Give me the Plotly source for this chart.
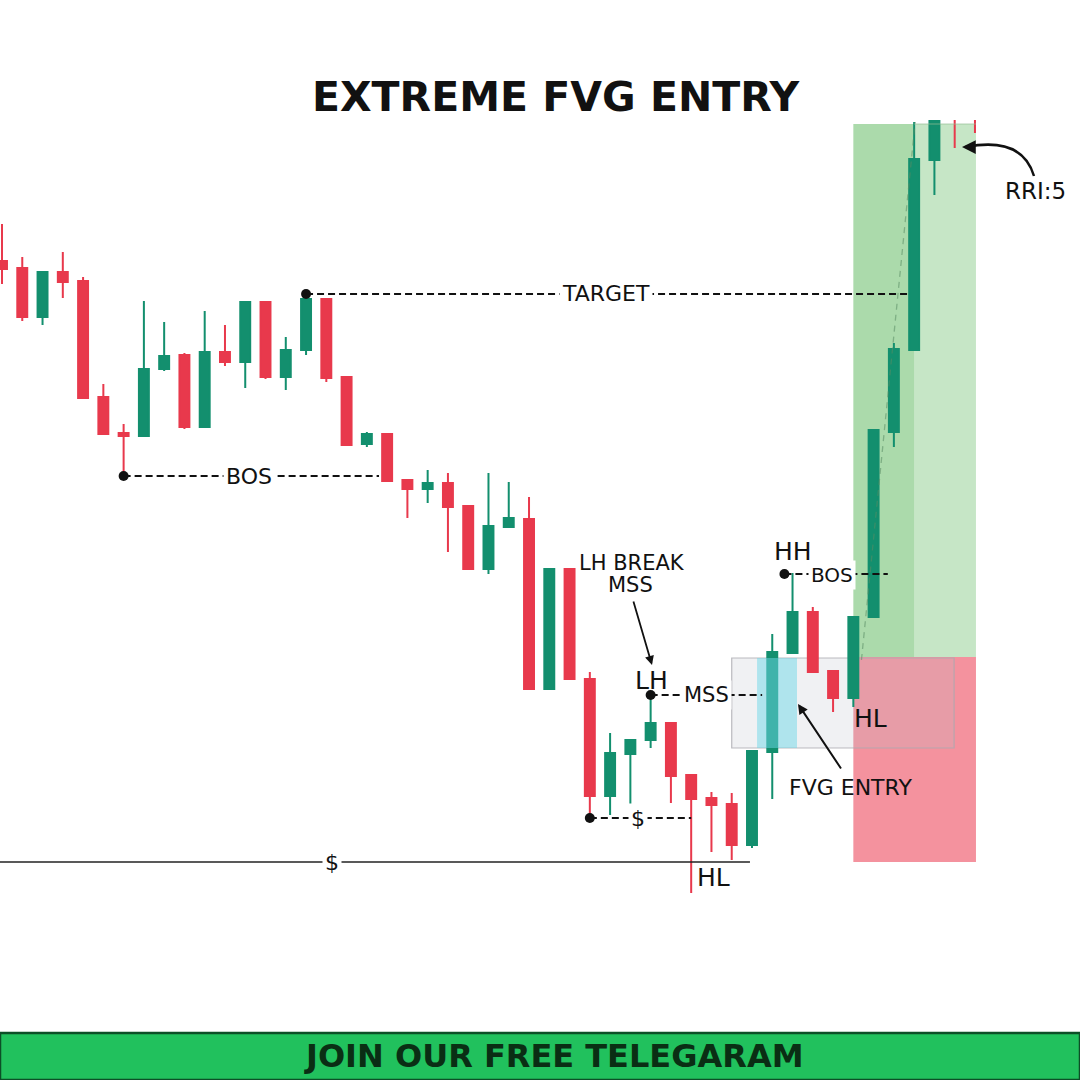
import plotly.graph_objects as go

# ---------------- data (price units) ----------------
idx = list(range(49))
opens  = [819, 812, 763, 808, 799, 683, 647, 644, 711, 725, 653, 728, 718, 778, 703, 730, 781, 703, 636, 646,
          600, 591, 597, 574, 511, 553, 561, 391, 511, 401, 284, 326, 340, 357, 305, 282, 276, 235, 328, 427,
          468, 409, 382, 463, 648, 730, 920, 975, 975]
highs  = [856, 823, 808, 828, 803, 696, 656, 779, 758, 727, 769, 755, 779, 779, 743, 786, 782, 704, 648, 647,
          601, 610, 607, 575, 607, 598, 583, 512, 512, 408, 347, 341, 385, 358, 306, 288, 287, 330, 446, 507,
          473, 410, 464, 651, 737, 958, 961, 980, 980]
lows   = [796, 759, 755, 782, 681, 645, 607, 643, 709, 651, 652, 714, 692, 701, 690, 725, 698, 634, 633, 598,
          562, 577, 528, 510, 506, 552, 390, 390, 400, 262, 265, 272, 332, 277, 187, 228, 220, 232, 281, 426,
          407, 368, 373, 462, 633, 729, 885, 932, 947]
closes = [811, 763, 808, 798, 682, 646, 644, 711, 724, 653, 728, 718, 778, 703, 730, 781, 702, 635, 646, 599,
          591, 597, 573, 511, 554, 562, 391, 511, 401, 284, 327, 340, 357, 304, 281, 275, 235, 329, 428, 468,
          408, 382, 463, 650, 731, 921, 960, 974, 974]

entry_price = 423
stop_price = 218
target_price = 956
fvg_top, fvg_bottom = 422, 332
chart_top = 960

RED = "#E8394C"
GREEN = "#138F6E"
FONT = "DejaVu Sans"

fig = go.Figure()

fig.add_trace(go.Candlestick(
    x=idx, open=opens, high=highs, low=lows, close=closes,
    increasing=dict(line=dict(color=GREEN, width=2), fillcolor=GREEN),
    decreasing=dict(line=dict(color=RED, width=2), fillcolor=RED),
    whiskerwidth=0, hoverinfo="skip", showlegend=False,
))

shapes = []
# position tool (target / stop areas)
shapes.append(dict(type="rect", xref="x", yref="y", x0=42, x1=45, y0=entry_price, y1=target_price,
                   fillcolor="rgba(120,195,120,0.62)", line_width=0, layer="below"))
shapes.append(dict(type="rect", xref="x", yref="y", x0=45, x1=48.05, y0=entry_price, y1=target_price,
                   fillcolor="rgba(120,195,120,0.42)", line_width=0, layer="below"))
shapes.append(dict(type="rect", xref="x", yref="y", x0=42, x1=48.05, y0=stop_price, y1=entry_price,
                   fillcolor="rgba(240,110,125,0.75)", line_width=0, layer="below"))
# FVG zone
shapes.append(dict(type="rect", xref="x", yref="y", x0=36.0, x1=46.97, y0=fvg_bottom, y1=fvg_top,
                   fillcolor="rgba(185,190,200,0.22)", line=dict(color="rgba(170,170,175,0.8)", width=1.2),
                   layer="below"))
shapes.append(dict(type="rect", xref="x", yref="y", x0=37.25, x1=39.22, y0=fvg_bottom, y1=fvg_top,
                   fillcolor="rgba(110,215,232,0.5)", line_width=0, layer="above"))
# dashed path in rally
shapes.append(dict(type="line", xref="x", yref="y", x0=42.4, y0=420, x1=45.05, y1=958,
                   line=dict(color="rgba(90,140,100,0.55)", width=1.3, dash="6px,5px"), layer="above"))
# chart crop at the top
shapes.append(dict(type="rect", xref="x", yref="y", x0=44.5, x1=50, y0=chart_top, y1=1080,
                   fillcolor="white", line_width=0, layer="above"))
shapes.append(dict(type="line", xref="x", yref="y", x0=45.0, x1=48.05, y0=target_price, y1=target_price,
                   line=dict(color="rgba(150,190,150,0.7)", width=1), layer="above"))

DASH = "7px,4px"
# horizontal level lines
shapes.append(dict(type="line", xref="x", yref="y", x0=15, x1=44.8, y0=highs[15], y1=highs[15],
                   line=dict(color="#111", width=2, dash=DASH)))
shapes.append(dict(type="line", xref="x", yref="y", x0=6, x1=18.6, y0=lows[6] - 3, y1=lows[6] - 3,
                   line=dict(color="#111", width=2, dash=DASH)))
shapes.append(dict(type="line", xref="x", yref="y", x0=-1, x1=36.9, y0=lows[36] - 2, y1=lows[36] - 2,
                   line=dict(color="#222", width=1.6)))
shapes.append(dict(type="line", xref="x", yref="y", x0=29, x1=34.0, y0=lows[29], y1=lows[29],
                   line=dict(color="#111", width=2, dash=DASH)))
shapes.append(dict(type="line", xref="x", yref="y", x0=32, x1=37.5, y0=highs[32], y1=highs[32],
                   line=dict(color="#111", width=2, dash=DASH)))
shapes.append(dict(type="line", xref="x", yref="y", x0=38.6, x1=43.7, y0=highs[39] - 1, y1=highs[39] - 1,
                   line=dict(color="#111", width=2, dash=DASH)))


def P(px, py):
    return px / 1080.0, 1 - py / 1080.0


# curved arrow for RR
a = P(1034, 176); b = P(1022, 136); c = P(966, 147)
shapes.append(dict(type="path", xref="paper", yref="paper",
                   path=f"M {a[0]},{a[1]} Q {b[0]},{b[1]} {c[0]},{c[1]}",
                   line=dict(color="#111", width=2.5)))

# footer bar
shapes.append(dict(type="rect", xref="paper", yref="paper", x0=0, x1=1, y0=0, y1=1 - 1033 / 1080,
                   fillcolor="#21C15D", line=dict(color="#0C4F27", width=2.5)))

fig.add_trace(go.Scatter(
    x=[15, 6, 29, 32, 38.6], y=[highs[15], lows[6] - 3, lows[29], highs[32], highs[39] - 1],
    mode="markers", marker=dict(color="#111", size=10), hoverinfo="skip", showlegend=False))

ann = []


def txt(text, px, py, size, bg=None, bold=False, **kw):
    x, y = P(px, py)
    t = f"<b>{text}</b>" if bold else text
    d = dict(text=t, x=x, y=y, xref="paper", yref="paper", showarrow=False,
             font=dict(family=FONT, size=size, color="#111"), xanchor="center", yanchor="middle")
    if bg:
        d.update(bgcolor=bg, borderpad=2)
    d.update(kw)
    ann.append(d)


txt("EXTREME FVG ENTRY", 556, 97, 41, bold=True)
txt("TARGET", 606, 294, 22, bg="white")
txt("BOS", 249, 476, 22, bg="white")
txt("$", 332, 862, 22, bg="white")
txt("$", 638, 818, 22, bg="white")
txt("MSS", 706, 695, 21, bg="white")
txt("BOS", 832, 575, 20, bg="white")
txt("LH BREAK", 632, 563, 21)
txt("MSS", 630, 585, 21)
txt("LH", 651, 680, 25)
txt("HH", 793, 551, 25)
txt("HL", 870, 718, 25)
txt("HL", 713, 877, 25)
txt("FVG ENTRY", 850, 787, 22)
txt("RRI:5", 1035, 191, 23)
txt("JOIN OUR FREE TELEGARAM", 553, 1056, 32, bold=True,
    font=dict(family=FONT, size=32, color="#0A2E14"))

# arrows
hx, hy = P(652, 665)
ann.append(dict(x=hx, y=hy, xref="paper", yref="paper", ax=-19, ay=-65, showarrow=True,
                arrowhead=2, arrowsize=1, arrowwidth=1.8, arrowcolor="#111", text=""))
hx, hy = P(798, 704)
ann.append(dict(x=hx, y=hy, xref="paper", yref="paper", ax=44, ay=66, showarrow=True,
                arrowhead=2, arrowsize=1, arrowwidth=2, arrowcolor="#111", text=""))
hx, hy = P(962, 147)
ann.append(dict(x=hx, y=hy, xref="paper", yref="paper", ax=9, ay=0, showarrow=True,
                arrowhead=2, arrowsize=1.1, arrowwidth=2.5, arrowcolor="#111", text=""))

fig.update_layout(
    width=1080, height=1080,
    margin=dict(l=0, r=0, t=0, b=0),
    paper_bgcolor="white", plot_bgcolor="white",
    shapes=shapes, annotations=ann,
    xaxis=dict(range=[-2 / 20.27, 1078 / 20.27], visible=False, rangeslider=dict(visible=False),
               fixedrange=True),
    yaxis=dict(range=[0, 1080], visible=False, fixedrange=True),
    showlegend=False,
)

fig.write_html("out.html")
